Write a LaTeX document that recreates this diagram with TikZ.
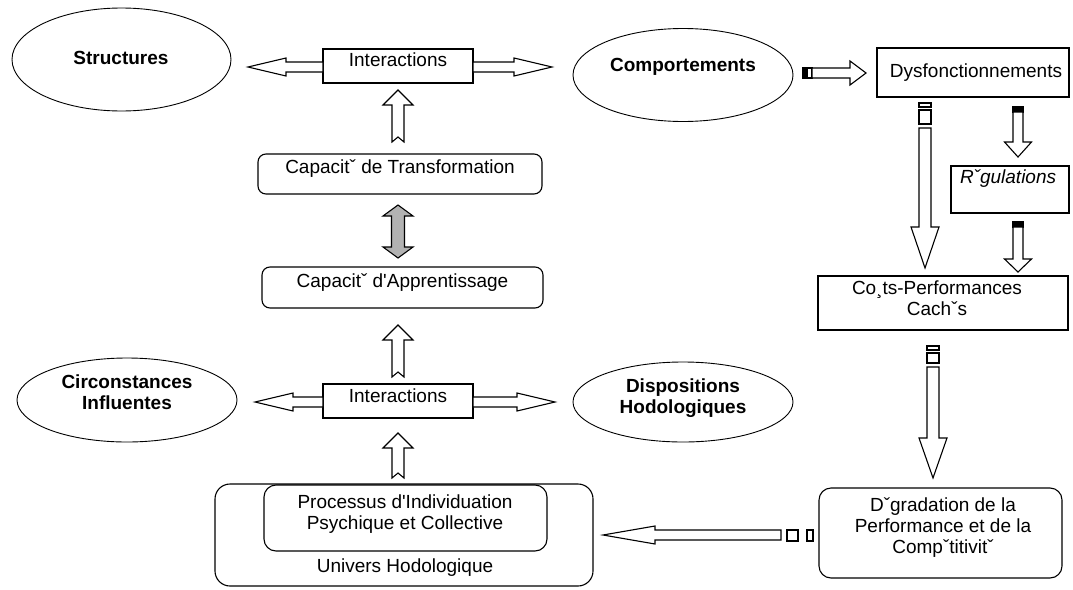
\documentclass[tikz,border=0pt]{standalone}
\usepackage{fontspec}
\setmainfont{Liberation Sans}[Ligatures=TeXOff]
\usetikzlibrary{calc,shapes.geometric}

% block arrows: #2 start, #3 tip, #4 shaft half width, #5 head half width, #6 head length
\newcommand\BArrUp[6][barrow]{%
  \path[#1] let \p1=(#2),\p2=(#3) in
  (\x1-#4,\y1) -- (\x1-#4,\y2-#6) -- (\x1-#5,\y2-#6) -- (\x1,\y2) --
  (\x1+#5,\y2-#6) -- (\x1+#4,\y2-#6) -- (\x1+#4,\y1) -- (\x1,\y1+5pt) -- cycle;}
\newcommand\BArrDown[6][barrow]{%
  \path[#1] let \p1=(#2),\p2=(#3) in
  (\x1-#4,\y1) -- (\x1-#4,\y2+#6) -- (\x1-#5,\y2+#6) -- (\x1,\y2) --
  (\x1+#5,\y2+#6) -- (\x1+#4,\y2+#6) -- (\x1+#4,\y1) -- cycle;}
\newcommand\BArrLeft[6][barrow]{%
  \path[#1] let \p1=(#2),\p2=(#3) in
  (\x1,\y1-#4) -- (\x2+#6,\y1-#4) -- (\x2+#6,\y1-#5) -- (\x2,\y1) --
  (\x2+#6,\y1+#5) -- (\x2+#6,\y1+#4) -- (\x1,\y1+#4) -- cycle;}
\newcommand\BArrRight[6][barrow]{%
  \path[#1] let \p1=(#2),\p2=(#3) in
  (\x1,\y1-#4) -- (\x2-#6,\y1-#4) -- (\x2-#6,\y1-#5) -- (\x2,\y1) --
  (\x2-#6,\y1+#5) -- (\x2-#6,\y1+#4) -- (\x1,\y1+#4) -- cycle;}
% double headed vertical arrow between two tips
\newcommand\BArrUpDown[6][garrow]{%
  \path[#1] let \p1=(#2),\p2=(#3) in
  (\x1,\y1) -- (\x1+#5,\y1-#6) -- (\x1+#4,\y1-#6) -- (\x1+#4,\y2+#6) --
  (\x1+#5,\y2+#6) -- (\x1,\y2) -- (\x1-#5,\y2+#6) -- (\x1-#4,\y2+#6) --
  (\x1-#4,\y1-#6) -- (\x1-#5,\y1-#6) -- cycle;}

\begin{document}
\begin{tikzpicture}[x=1pt,y=-1pt,
  line width=1.1pt, line join=miter,
  every node/.style={inner sep=0pt, outer sep=0pt},
  lbl/.style={font=\fontsize{19}{21}\selectfont, anchor=base, align=center},
  blbl/.style={font=\fontsize{19}{21}\selectfont\bfseries, anchor=base, align=center},
  oval/.style={draw, ellipse, line width=0.9pt},
  sqbox/.style={draw, rectangle},
  rbox/.style={draw, rectangle, rounded corners=8pt},
  barrow/.style={draw, fill=white},
  garrow/.style={draw, fill=black!30},
  stripe/.style={draw, fill=white},
  bstripe/.style={draw, fill=black},
]
\fill[white] (0,0) rectangle (1073,589);
\useasboundingbox (0,0) rectangle (1073,589);

% ---- ovals (multi-line labels sit on the baseline of their last line) ----
\node[oval, minimum width=219pt, minimum height=103pt] (struct) at (121.5,59.5) {};
\node[blbl] (structT) at (121,64) {Structures};
\node[oval, minimum width=220pt, minimum height=93pt] (comp) at (683,75) {};
\node[blbl] (compT) at (683,71) {Comportements};
\node[oval, minimum width=220pt, minimum height=84pt] (circ) at (127,400) {};
\node[blbl] (circT) at (127,409) {Circonstances\\Influentes};
\node[oval, minimum width=220pt, minimum height=80pt] (disp) at (683,402) {};
\node[blbl] (dispT) at (683,413) {Dispositions\\Hodologiques};

% ---- boxes ----
\node[sqbox, minimum width=150pt, minimum height=34pt] (inter1) at (398,66) {};
\node[lbl] (inter1T) at (398,66) {Interactions};
\node[rbox, minimum width=284pt, minimum height=40pt] (transf) at (400,174) {};
\node[lbl] (transfT) at (400,173) {Capacitˇ de Transformation};
\node[rbox, minimum width=281pt, minimum height=41pt] (appr) at (402.5,287.5) {};
\node[lbl] (apprT) at (402.5,287) {Capacitˇ d'Apprentissage};
\node[sqbox, minimum width=150pt, minimum height=34pt] (inter2) at (398,401) {};
\node[lbl] (inter2T) at (398,402) {Interactions};

\node[sqbox, minimum width=192pt, minimum height=49pt] (dys) at (973,72.5) {};
\node[lbl] (dysT) at (976,77) {Dysfonctionnements};
\node[sqbox, minimum width=118pt, minimum height=47pt] (reg) at (1010,189.5) {};
\node[lbl, anchor=base west, font=\fontsize{19}{21}\selectfont\itshape] (regT) at (960,183) {Rˇgulations};
\node[sqbox, minimum width=250pt, minimum height=54pt] (couts) at (943,303) {};
\node[lbl] (coutsT) at (937,315) {Co¸ts-Performances\\Cachˇs};
\node[rbox, rounded corners=12pt, minimum width=243pt, minimum height=90pt] (degr) at (940.5,533) {};
\node[lbl] (degrT) at (943,553) {Dˇgradation de la\\Performance et de la\\Compˇtitivitˇ};

\node[rbox, rounded corners=15pt, minimum width=378pt, minimum height=102pt] (univ) at (404,535) {};
\node[rbox, rounded corners=12pt, minimum width=283pt, minimum height=66pt] (proc) at (405.5,518) {};
\node[lbl] (procT) at (405,529) {Processus d'Individuation\\Psychique et Collective};
\node[lbl] (univT) at (405,572) {Univers Hodologique};

% ---- arrow end points ----
\coordinate (i1tipL) at (248,67);
\coordinate (i1tipR) at (552,67);
\coordinate (i1L) at (inter1.west |- i1tipL);
\coordinate (i1R) at (inter1.east |- i1tipR);
\coordinate (i2tipL) at (255,402);
\coordinate (i2tipR) at (555,402);
\coordinate (i2L) at (inter2.west |- i2tipL);
\coordinate (i2R) at (inter2.east |- i2tipR);

\coordinate (u1s) at (398,142); \coordinate (u1t) at (398,90);
\coordinate (u2s) at (398,377); \coordinate (u2t) at (398,325);
\coordinate (u3s) at (398,478); \coordinate (u3t) at (398,433);
\coordinate (gtop) at (398,205); \coordinate (gbot) at (398,258);

\coordinate (cdS) at (812,73); \coordinate (cdT) at (866,73);
\coordinate (drS) at (1018,112); \coordinate (drT) at (1018,157);
\coordinate (dcS) at (925,128); \coordinate (dcT) at (925,268);
\coordinate (rcS) at (1018,227); \coordinate (rcT) at (1018,272);
\coordinate (cgS) at (933,367); \coordinate (cgT) at (933,478);
\coordinate (guS) at (781,535); \coordinate (guT) at (603,535);

% ---- interactions, both ways ----
\BArrLeft{i1L}{i1tipL}{5pt}{9pt}{38pt}
\BArrRight{i1R}{i1tipR}{5pt}{9pt}{38pt}
\BArrLeft{i2L}{i2tipL}{5pt}{9pt}{38pt}
\BArrRight{i2R}{i2tipR}{5pt}{9pt}{38pt}

% ---- vertical flow on the left ----
\BArrUp{u1s}{u1t}{6pt}{15pt}{15pt}
\BArrUp{u2s}{u2t}{6pt}{15pt}{15pt}
\BArrUp{u3s}{u3t}{6pt}{15pt}{15pt}
\BArrUpDown{gtop}{gbot}{6.5pt}{15pt}{11pt}

% ---- Comportements -> Dysfonctionnements ----
\path[bstripe] (803,68) rectangle (807,78);
\path[stripe] (807,68) rectangle (812,78);
\BArrRight{cdS}{cdT}{5pt}{12pt}{16pt}

% ---- Dysfonctionnements -> Regulations ----
\path[bstripe] (1013,107) rectangle (1023,112);
\BArrDown{drS}{drT}{5pt}{13.5pt}{15pt}

% ---- Dysfonctionnements -> Couts ----
\path[stripe] (919,103) rectangle (931,107);
\path[stripe] (919,110) rectangle (931,124);
\BArrDown{dcS}{dcT}{6pt}{14pt}{41pt}

% ---- Regulations -> Couts ----
\path[bstripe] (1013,222) rectangle (1023,227);
\BArrDown{rcS}{rcT}{5pt}{13.5pt}{13pt}

% ---- Couts -> Degradation ----
\path[stripe] (927,346) rectangle (939,350);
\path[stripe] (927,353) rectangle (939,363);
\BArrDown{cgS}{cgT}{6pt}{14pt}{40pt}

% ---- Degradation -> Univers ----
\path[stripe] (807,530) rectangle (813,541);
\path[stripe] (787,530) rectangle (798,541);
\BArrLeft{guS}{guT}{5pt}{9pt}{52pt}

\end{tikzpicture}
\end{document}
